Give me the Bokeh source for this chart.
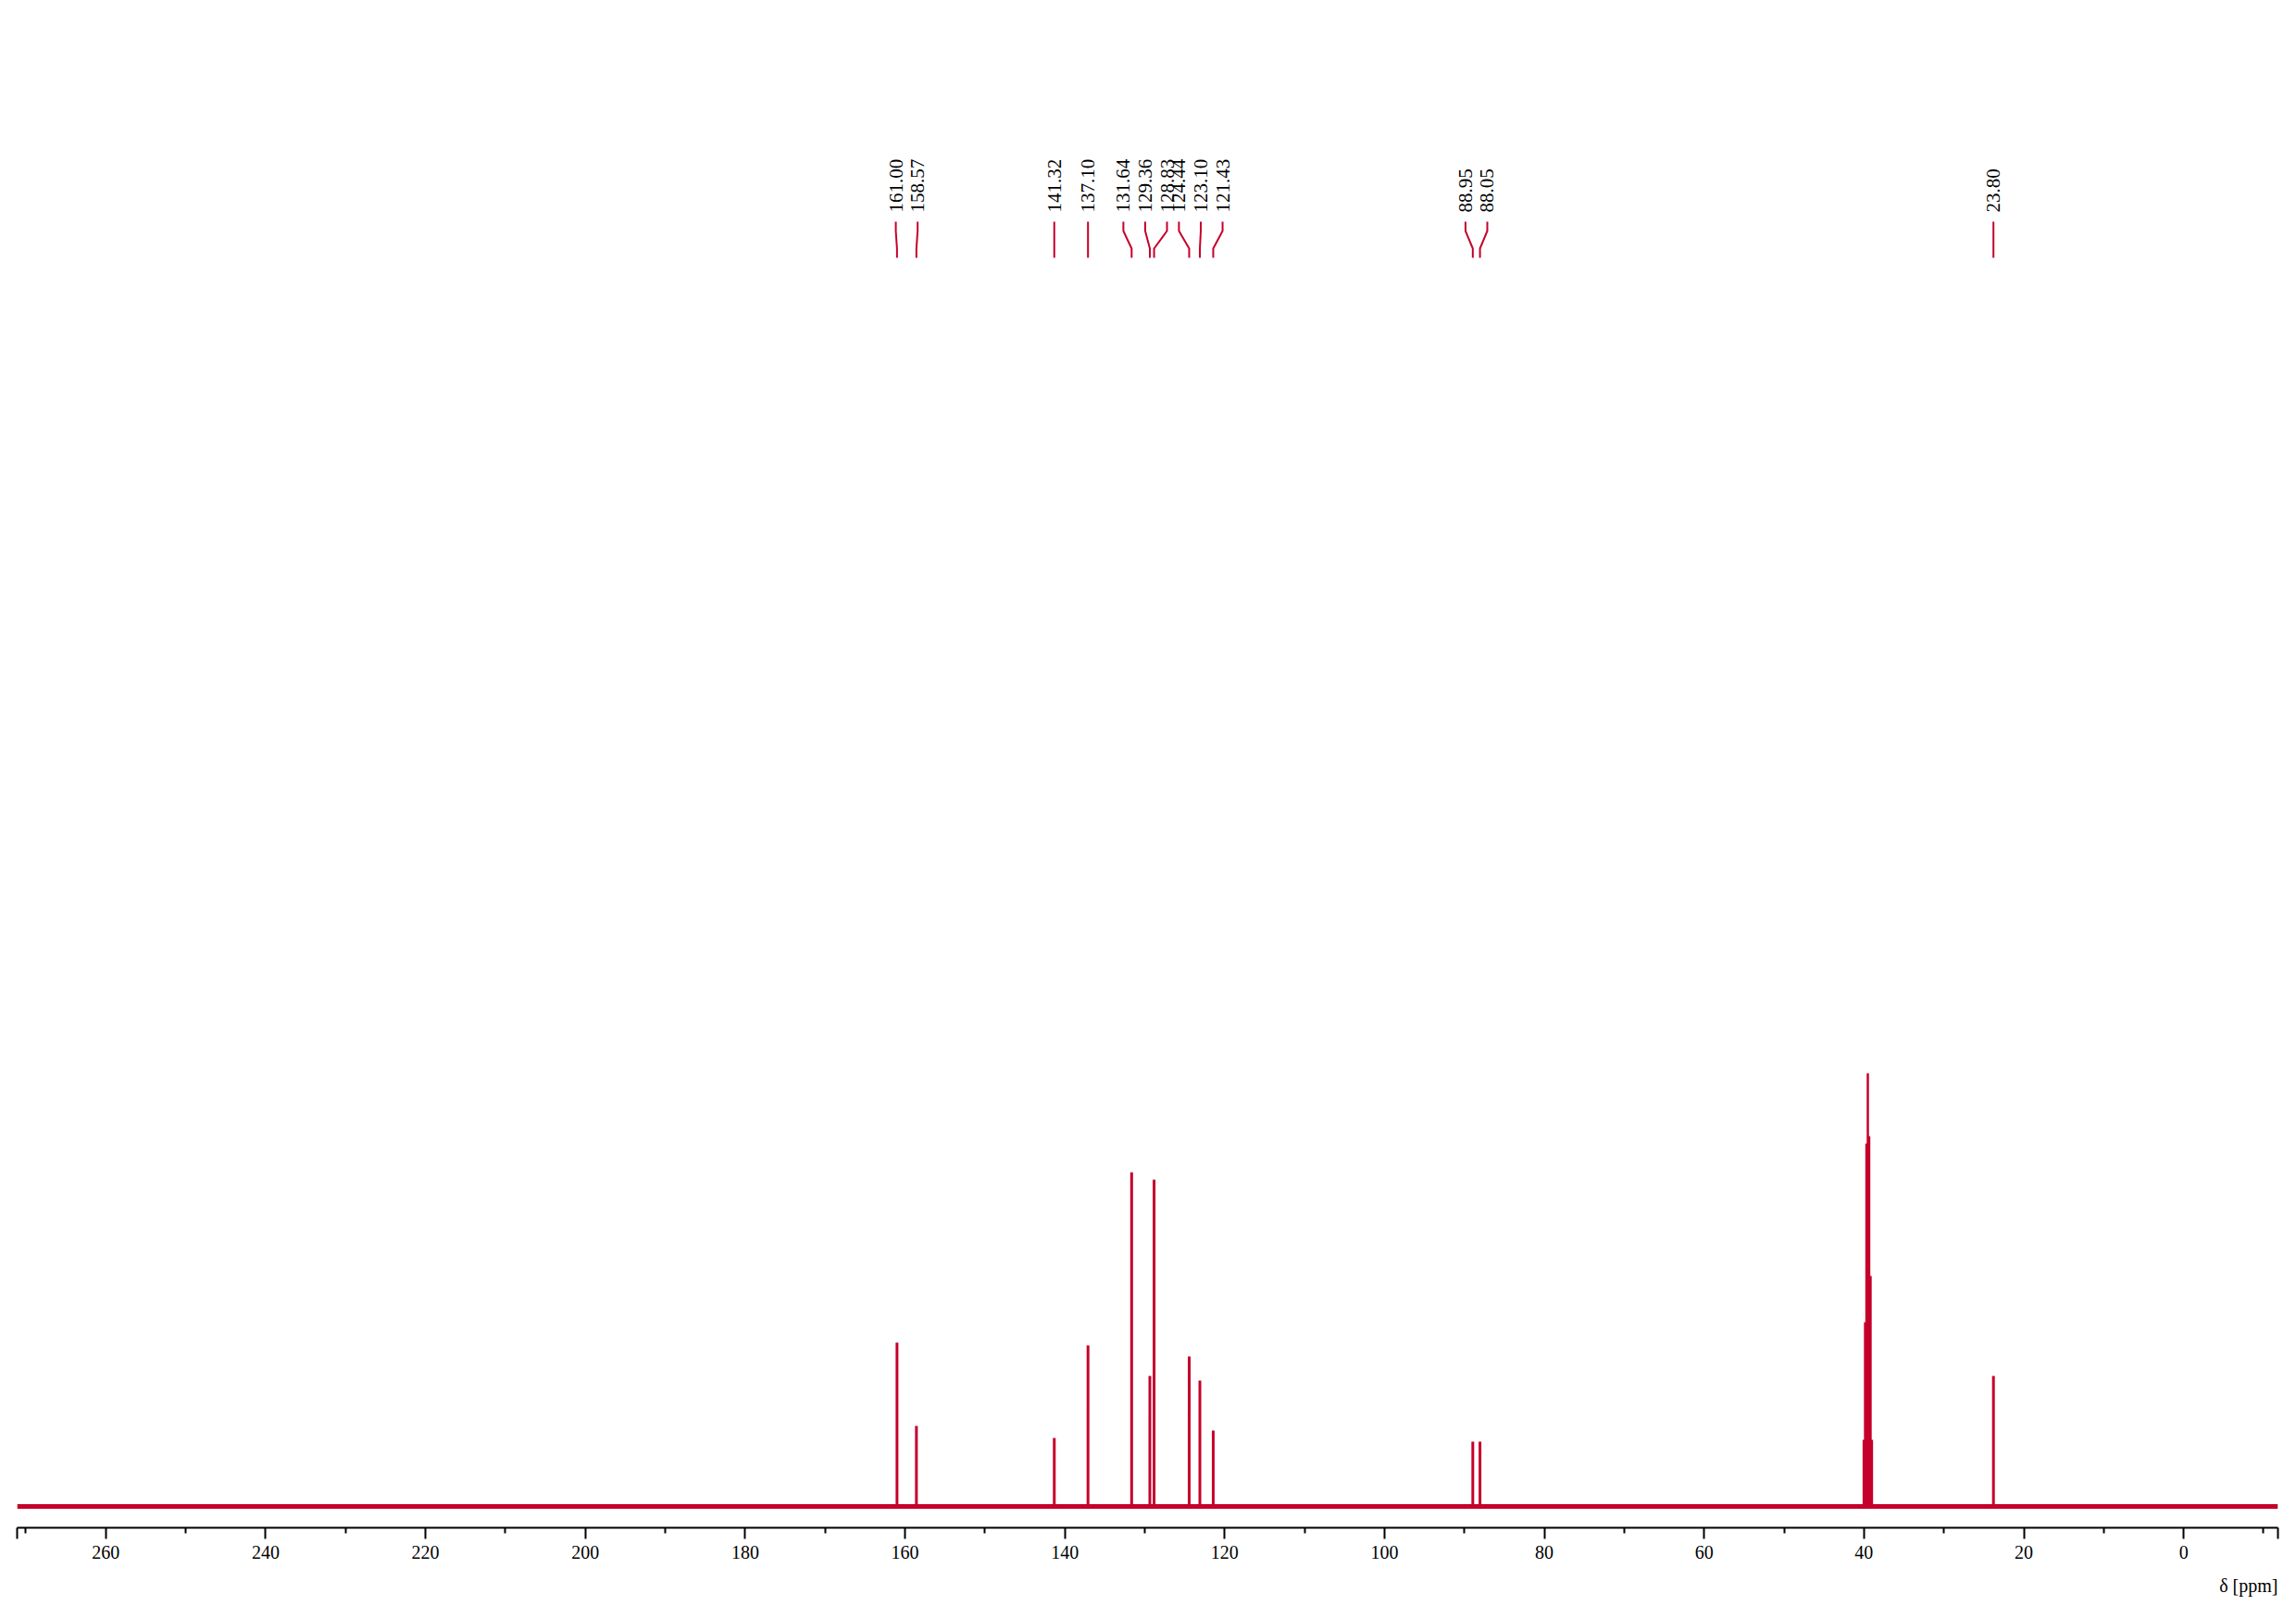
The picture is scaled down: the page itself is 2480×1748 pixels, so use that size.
import numpy as np
from bokeh.plotting import figure
from bokeh.models import Range1d, FixedTicker, Title
from bokeh.core.properties import value
from bokeh.embed import file_html
from bokeh.resources import INLINE

# ---- data ----
peak_ppm = [161.00, 158.57, 141.32, 137.10, 131.64, 129.36, 128.83,
            124.44, 123.10, 121.43, 88.95, 88.05, 23.80]
peak_height = [177, 87, 74, 174, 361, 141, 353, 162, 136, 82, 70, 70, 141]
# solvent (DMSO-d6) septet, not labelled
solvent_ppm = [40.03, 39.86, 39.69, 39.52, 39.35, 39.18, 39.01]
solvent_height = [72, 199, 392, 468, 400, 249, 72]
major_ticks = [260, 240, 220, 200, 180, 160, 140, 120, 100, 80, 60, 40, 20, 0]
minor_ticks = [270, 250, 230, 210, 190, 170, 150, 130, 110, 90, 70, 50, 30, 10, -10]
x_label = "δ [ppm]"

# ---- layout ----
X_LEFT, X_RIGHT = 271.1, -11.8
RED = "#C4002B"
FONT = "Liberation Serif"
label_groups = [[0, 1], [2], [3], [4, 5, 6], [7, 8, 9], [10, 11], [12]]
LABEL_GAP = 2.73  # ppm between neighbouring labels in a group

label_x = [0.0] * len(peak_ppm)
for g in label_groups:
    m = sum(peak_ppm[i] for i in g) / len(g)
    for k, i in enumerate(g):
        label_x[i] = m + LABEL_GAP * ((len(g) - 1) / 2 - k)

Y_TEXT = 1398
Y_C = [1388, 1378, 1359, 1349]

p = figure(width=2464, height=1740,
           x_range=Range1d(X_LEFT, X_RIGHT), y_range=Range1d(-23, 1619),
           output_backend="svg", toolbar_location=None,
           y_axis_location=None,
           min_border_left=18, min_border_right=4,
           min_border_top=8, min_border_bottom=90)
p.outline_line_color = None
p.xgrid.visible = False
p.ygrid.visible = False
p.background_fill_color = "white"

# baseline (noise band)
p.line(x=[X_LEFT, X_RIGHT], y=[0, 0], line_color=RED, line_width=5)
# peaks
p.segment(x0=peak_ppm, y0=[0] * len(peak_ppm), x1=peak_ppm, y1=peak_height,
          line_color=RED, line_width=3)
p.segment(x0=solvent_ppm, y0=[0] * len(solvent_ppm), x1=solvent_ppm,
          y1=solvent_height, line_color=RED, line_width=2.5)

# peak labels and connectors
xs = [[lx, lx, px, px] for lx, px in zip(label_x, peak_ppm)]
ys = [Y_C for _ in peak_ppm]
p.multi_line(xs=xs, ys=ys, line_color=RED, line_width=2)
p.text(x=label_x, y=[Y_TEXT] * len(peak_ppm),
       text=[f"{v:.2f}" for v in peak_ppm],
       angle=np.pi / 2, text_align="left", text_baseline="middle",
       text_font=value(FONT), text_font_size="21px", text_color="black")

# axis
ends = [271.05, -11.75]
p.xaxis.ticker = FixedTicker(ticks=[ends[0]] + major_ticks + [ends[1]],
                             minor_ticks=minor_ticks)
p.xaxis.major_label_overrides = {ends[0]: "", ends[1]: ""}
p.xaxis.axis_line_width = 2
p.xaxis.axis_line_color = "black"
p.xaxis.major_tick_line_width = 2
p.xaxis.minor_tick_line_width = 2
p.xaxis.major_tick_out = 12
p.xaxis.major_tick_in = 0
p.xaxis.minor_tick_out = 6
p.xaxis.minor_tick_in = 0
p.xaxis.major_label_standoff = 7
p.xaxis.major_label_text_font = FONT
p.xaxis.major_label_text_font_size = "20px"
p.xaxis.major_label_text_color = "black"

p.add_layout(Title(text=x_label, align="right", text_font=FONT,
                   text_font_size="20px", text_font_style="normal",
                   text_color="black", standoff=26), "below")

open("out.html", "w").write(file_html(p, INLINE))
